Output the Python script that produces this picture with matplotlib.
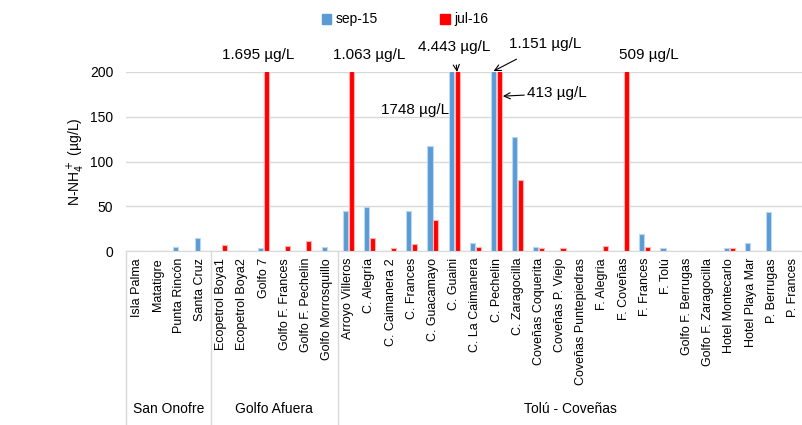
import numpy as np
import matplotlib
matplotlib.use("Agg")
import matplotlib.pyplot as plt
from matplotlib.patches import Patch

plt.rcParams['font.family'] = ['Liberation Sans', 'DejaVu Sans']

# data (values above 200 are clipped by the axis, real values kept)
groups = ['San Onofre', 'Golfo Afuera', 'Tolú - Coveñas']
stations = [
    ['Isla Palma', 'Matatigre', 'Punta Rincón', 'Santa Cruz'],
    ['Ecopetrol Boya1', 'Ecopetrol Boya2', 'Golfo 7', 'Golfo F. Frances',
     'Golfo F. Pechelin', 'Golfo Morrosquillo'],
    ['Arroyo Villeros', 'C. Alegría', 'C. Caimanera 2', 'C. Frances', 'C. Guacamayo',
     'C. Guaini', 'C. La Caimanera', 'C. Pechelin', 'C. Zaragocilla', 'Coveñas Coquerita',
     'Coveñas P. Viejo', 'Coveñas Puntepiedras', 'F. Alegria', 'F. Coveñas', 'F. Frances',
     'F. Tolú', 'Golfo F. Berrugas', 'Golfo F. Zaragocilla', 'Hotel Montecarlo',
     'Hotel Playa Mar', 'P. Berrugas', 'P. Frances'],
]
sep15 = [0, 0, 4.4, 14.4,
         0, 0, 3, 0, 0, 4,
         44.5, 49.6, 0, 44.5, 117, 1748, 9.3, 1151, 127, 4.8, 0, 0, 0, 0, 18.9,
         3.7, 0, 0, 3, 8.5, 43.7, 0]
jul16 = [0, 0, 0, 0,
         6.3, 0, 1695, 5.5, 11.5, 0,
         1063, 14.4, 3.3, 7.8, 34.8, 4443, 4.8, 413, 79, 3, 3.3, 0, 5.2, 509, 4.4,
         0, 0, 0, 3.7, 0, 0, 0]
series = ['sep-15', 'jul-16']
colors = ['#5B9BD5', '#FF0000']
edges = ['#BDD7EE', '#FFB0B0']

labels = [s for g in stations for s in g]
x = np.arange(len(labels))
w = 0.24

fig = plt.figure(figsize=(8.02, 4.25), dpi=100)
ax = fig.add_axes([0.157, 0.4094, 0.845, 0.4212])

ax.bar(x - 0.14, sep15, w, color=colors[0], edgecolor=edges[0], linewidth=0.8, zorder=3)
ax.bar(x + 0.14, jul16, w, color=colors[1], edgecolor=edges[1], linewidth=0.8, zorder=3)

ax.set_ylim(0, 200)
ax.set_xlim(-0.5, len(labels) - 0.5)
ax.set_yticks([0, 50, 100, 150, 200])
ax.tick_params(axis='y', length=0, pad=9, labelsize=10)
ax.yaxis.grid(True, color='#D9D9D9', linewidth=1)
ax.set_axisbelow(True)
for s in ['left', 'right', 'top']:
    ax.spines[s].set_visible(False)
ax.spines['bottom'].set_color('#D9D9D9')
ax.set_ylabel('N-NH$_4^+$ (µg/L)', fontsize=10, labelpad=2)

ax.set_xticks(x)
ax.set_xticklabels(labels, rotation=90, fontsize=9)
ax.tick_params(axis='x', length=0, pad=5)

# group separators and names
trans = ax.get_xaxis_transform()
start = 0
for g, names in zip(groups, stations):
    ax.plot([start - 0.5, start - 0.5], [0, -0.98], transform=trans,
            color='#D9D9D9', linewidth=1, clip_on=False)
    mid = start + (len(names) - 1) / 2
    ax.text(mid, -0.88, g, transform=trans, ha='center', va='center', fontsize=10)
    start += len(names)

# value notes for clipped bars
i = labels.index
ax.text(i('Golfo 7') - 0.25, 219, '1.695 µg/L', ha='center', va='center', fontsize=11)
ax.text(i('Arroyo Villeros') + 1.0, 219, '1.063 µg/L', ha='center', va='center', fontsize=11)
ax.text(i('F. Coveñas') + 1.2, 219, '509 µg/L', ha='center', va='center', fontsize=11)
ax.annotate('4.443 µg/L', xy=(i('C. Guaini') + 0.14, 200), xytext=(i('C. Guaini'), 228),
            ha='center', va='center', fontsize=11, annotation_clip=False,
            arrowprops=dict(arrowstyle='->', color='black', lw=0.8, shrinkA=6, shrinkB=0))
ax.annotate('1.151 µg/L', xy=(i('C. Pechelin') - 0.14, 201), xytext=(i('C. Pechelin') + 2.3, 231),
            ha='center', va='center', fontsize=11, annotation_clip=False,
            arrowprops=dict(arrowstyle='->', color='black', lw=0.8, shrinkA=8, shrinkB=0))
ax.annotate('413 µg/L', xy=(i('C. Pechelin') + 0.3, 173), xytext=(i('C. Pechelin') + 2.85, 176),
            ha='center', va='center', fontsize=11, annotation_clip=False,
            arrowprops=dict(arrowstyle='->', color='black', lw=0.8, shrinkA=30, shrinkB=0))
ax.text(i('C. Guaini') - 0.25, 157, '1748 µg/L', ha='right', va='center', fontsize=11, zorder=2)

handles = [Patch(color=c) for c in colors]
fig.legend(handles, series, loc='upper center', bbox_to_anchor=(0.505, 1.0), ncol=2,
           frameon=False, fontsize=10, handlelength=0.7, handleheight=0.7,
           handletextpad=0.3, columnspacing=4.5)

fig.savefig('out.png', dpi=100)
